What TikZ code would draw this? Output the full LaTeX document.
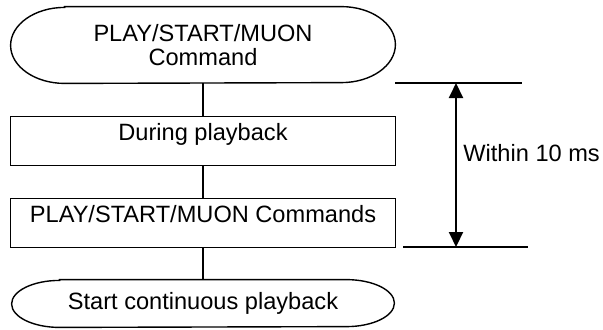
\documentclass[tikz,border=0pt]{standalone}
\usepackage{fontspec}
\setmainfont{Liberation Sans}
\usetikzlibrary{arrows.meta}

\tikzset{
  termtext/.style={inner sep=0pt, align=center},
  outline/.style={line width=0.7pt},
  stepbox/.style={draw, line width=0.7pt, inner sep=0pt, minimum width=192.5pt,
    text height=11.8pt, text depth=12.7pt, anchor=north},
  mark line/.style={line width=0.7pt},
  span arrow/.style={line width=1pt, {Triangle[length=7.5pt,width=7pt]}-{Triangle[length=7.5pt,width=7pt]}}
}

\begin{document}
\begin{tikzpicture}[x=0.5pt, y=-0.5pt, font=\fontsize{11.8}{12}\selectfont]
			\useasboundingbox (0,0) rectangle (603,329);

			% Flow nodes
			\node[termtext, minimum width=192pt, minimum height=38pt] (cmd) at (203,45) {PLAY/START/MUON\\Command};   % Top terminal
			\node[stepbox] (during) at (203,116) {During playback};                 % First box
			\node[stepbox] (cmds) at (203,198) {PLAY/START/MUON Commands};          % Second box
			\node[termtext, minimum width=191pt, minimum height=23.5pt] (start) at (203,303.5) {Start continuous playback}; % Bottom terminal

			% Terminal outlines
			\draw[outline] ([xshift=27pt]cmd.north west) -- ([xshift=-27pt]cmd.north east)
			  arc[start angle=90, end angle=-90, x radius=27pt, y radius=19pt]
			  -- ([xshift=27pt]cmd.south west)
			  arc[start angle=270, end angle=90, x radius=27pt, y radius=19pt] -- cycle;
			\draw[outline] ([xshift=24pt]start.north west) -- ([xshift=-24pt]start.north east)
			  arc[start angle=90, end angle=-90, x radius=24pt, y radius=11.75pt]
			  -- ([xshift=24pt]start.south west)
			  arc[start angle=270, end angle=90, x radius=24pt, y radius=11.75pt] -- cycle;

			% Edges
			\draw[outline] (cmd.south) -- (during.north);
			\draw[outline] (during.south) -- (cmds.north);
			\draw[outline] (cmds.south) -- (start.north);

			% Timing marks
			\coordinate (top1) at (395,83);
			\coordinate (top2) at (522,83);
			\coordinate (bot1) at (403,247);
			\coordinate (bot2) at (528,247);
			\coordinate (arrtop) at (456,83);
			\coordinate (arrbot) at (456,247);
			\draw[mark line] (top1) -- (top2);
			\draw[mark line] (bot1) -- (bot2);
			\draw[span arrow] (arrtop) -- (arrbot);
			\node[anchor=west, inner sep=0pt] (within) at (463,153) {Within 10 ms};
		\end{tikzpicture}
\end{document}
